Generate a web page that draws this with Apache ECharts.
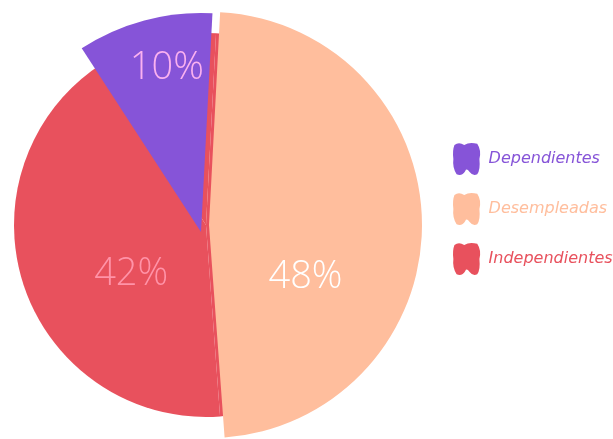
<!DOCTYPE html>
<html>
<head>
<meta charset="utf-8">
<script src="https://cdn.jsdelivr.net/npm/echarts@6/dist/echarts.min.js"></script>
<style>
  html, body { margin: 0; padding: 0; background: #fff; }
  #chart { width: 613px; height: 439px; }
</style>
</head>
<body>
<div id="chart"></div>
<script>
const categories = ['Dependientes', 'Desempleadas', 'Independientes']
const shares = [10, 48, 42]
const colors = ['#8654D8', '#FFBE9D', '#E8515D']
const labelColors = ['#FBB1F0', '#FFFFFF', '#FF93A8']

// each slice sits on its own slightly shifted pie
const layouts = [
  { center: [201, 232], radius: 219, z: 3, dx: -5, dy: -55 },
  { center: [209, 225], radius: 213, z: 2, dx: -13, dy: 53 },
  { center: [206, 225], radius: 192, z: 1, dx: 19, dy: 18 }
]

const scribble = 'path://M3,3 Q7,0 12,3 Q17,0 24,2 Q28,8 26,16 Q27,26 24,30 Q20,32 17,28 Q14,24 13,27 Q10,32 5,30 Q1,24 2,16 Q1,8 3,3 Z'

const buildSeries = (k) => {
  const lay = layouts[k]
  // the red pie is drawn whole, it shows through the gap at the top
  const fill = (i) => (i === k || k === 2) ? colors[k] : 'rgba(0,0,0,0)'
  return {
    name: categories[k],
    type: 'pie',
    center: lay.center,
    radius: lay.radius,
    startAngle: 123,
    z: lay.z,
    silent: true,
    percentPrecision: 0,
    labelLine: { show: false },
    labelLayout: { dx: lay.dx, dy: lay.dy },
    data: categories.map((name, i) => ({
      name,
      value: shares[i],
      itemStyle: { color: fill(i), borderWidth: 0 },
      label: {
        show: i === k,
        position: 'inside',
        formatter: '{d}%',
        color: labelColors[k],
        fontSize: 38,
        fontFamily: 'Open Sans',
        fontWeight: 300
      }
    }))
  }
}

const chart = echarts.init(document.getElementById('chart'))
chart.setOption({
  animation: false,
  legend: {
    orient: 'vertical',
    left: 448,
    top: 138,
    itemWidth: 28,
    itemHeight: 32,
    itemGap: 18,
    selectedMode: false,
    data: categories.map((name, i) => ({
      name,
      icon: scribble,
      itemStyle: { color: colors[i] },
      textStyle: { color: colors[i] }
    })),
    textStyle: {
      fontSize: 16,
      fontStyle: 'italic',
      fontFamily: 'DejaVu Sans',
      padding: [0, 0, 0, 3]
    }
  },
  series: [2, 1, 0].map(buildSeries)
})
</script>
</body>
</html>
